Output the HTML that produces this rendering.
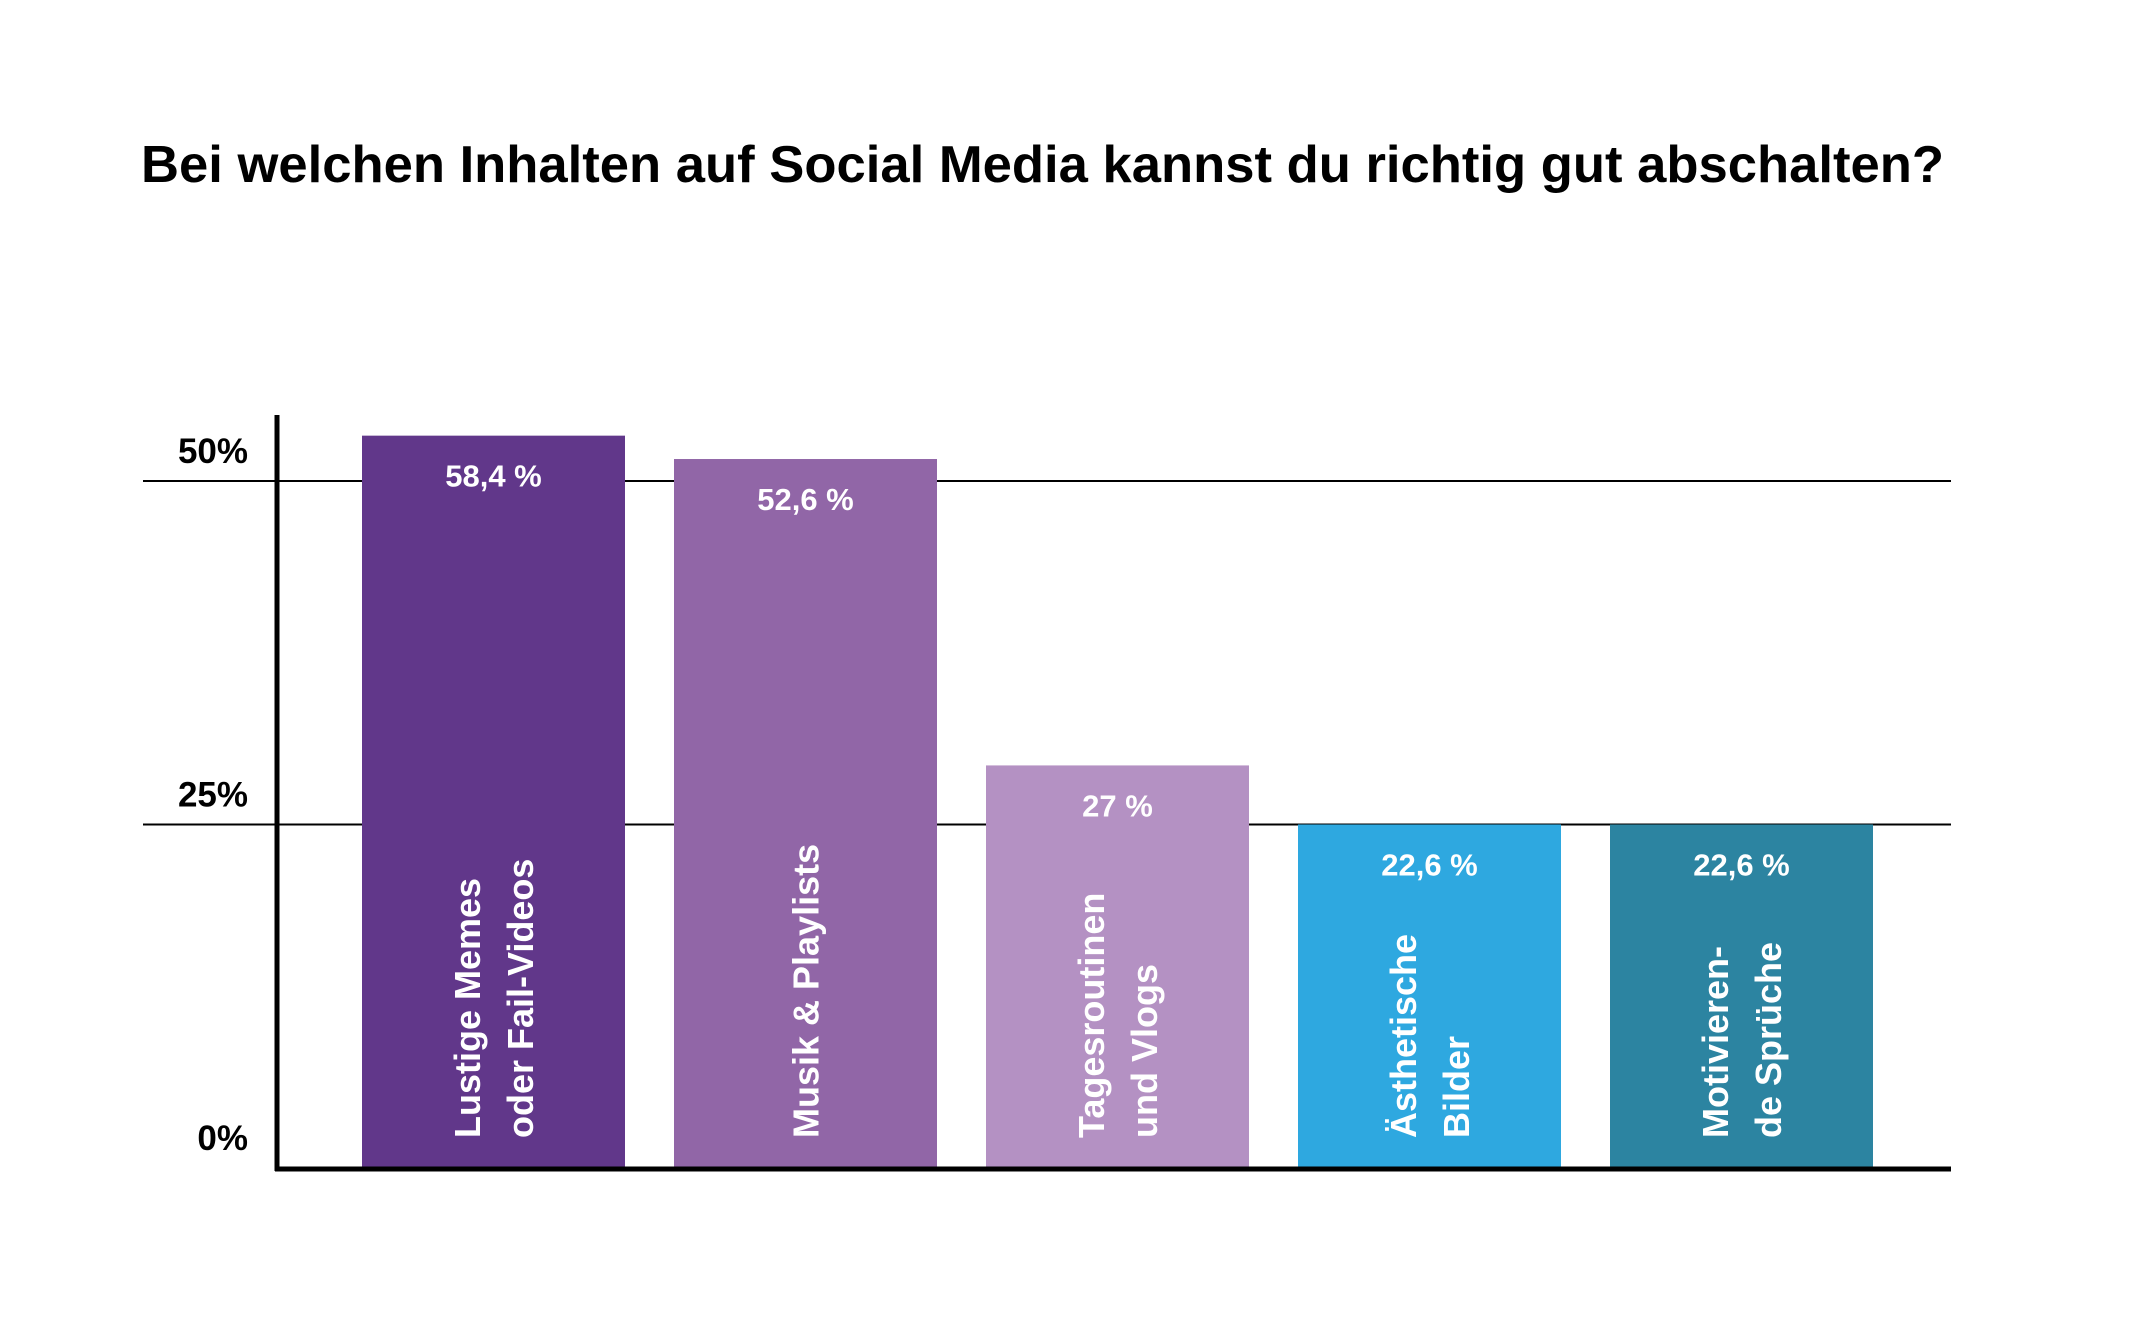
<!DOCTYPE html>
<html><head><meta charset="utf-8"><style>
html,body{margin:0;padding:0;background:#fff;}
svg{display:block;font-family:"Liberation Sans",sans-serif;}
</style></head><body>
<svg id="chart" width="2150" height="1321" viewBox="0 0 2150 1321" xmlns="http://www.w3.org/2000/svg">
<text x="141" y="182" font-size="52" font-weight="bold" textLength="1803" lengthAdjust="spacingAndGlyphs">Bei welchen Inhalten auf Social Media kannst du richtig gut abschalten?</text>
<g id="grid"></g>
<g id="bars"></g>
<line x1="277" y1="415" x2="277" y2="1171" stroke="#000" stroke-width="5"/>
<line x1="275" y1="1169" x2="1951" y2="1169" stroke="#000" stroke-width="5"/>
</svg>
<script>
const categories = [["Lustige Memes","oder Fail-Videos"],["Musik & Playlists"],["Tagesroutinen","und Vlogs"],["Ästhetische","Bilder"],["Motivieren-","de Sprüche"]];
const valueLabels = ["58,4 %","52,6 %","27 %","22,6 %","22,6 %"];
const barHeights = [53.3, 51.6, 29.3, 25, 25];
const colors = ["#61378a","#9166a7","#b491c3","#2ea8e0","#2c84a1"];
const ticks = [0, 25, 50];
const tickLabels = ["0%","25%","50%"];

const NS = "http://www.w3.org/2000/svg";
const y0 = 1168, y50 = 481;
function yScale(v){ return y0 - (y0 - y50) * v / 50; }
function xLeft(i){ return 362 + i * 312; }
const bw = 263;
const grid = document.getElementById('grid');
const barsG = document.getElementById('bars');
function mk(tag, attrs, parent){ const e = document.createElementNS(NS, tag); for (const k in attrs) e.setAttribute(k, attrs[k]); parent.appendChild(e); return e; }

ticks.forEach((t, i) => {
  const y = yScale(t);
  if (t > 0) {
    const l = mk('line', {x1:143, x2:1951, y1:y, y2:y, stroke:'#000', 'stroke-width':2}, grid);
    
    
  }
  const tx = mk('text', {x:248, y:y - 18, 'text-anchor':'end', 'font-size':35, 'font-weight':'bold'}, grid);
  tx.textContent = tickLabels[i];
  
  
});

barHeights.forEach((v, i) => {
  const x = xLeft(i), top = yScale(v);
  const r = mk('rect', {x:x, y:top, width:bw, height:y0 - top, fill:colors[i]}, barsG);
  
  
  const cx = x + bw / 2;
  const vl = mk('text', {x:cx, y:top + 51, 'text-anchor':'middle', 'font-size':31, 'font-weight':'bold', fill:'#fff'}, barsG);
  vl.textContent = valueLabels[i];
  
  
  const lines = categories[i];
  const n = lines.length;
  lines.forEach((ln, j) => {
    const lx = cx + (j - (n - 1) / 2) * 53 + 13;
    const ct = mk('text', {x:0, y:0, transform:'translate(' + lx + ',1138) rotate(-90)', 'font-size':36, 'font-weight':'bold', fill:'#fff'}, barsG);
    ct.textContent = ln;
    
    
  });
});
</script>
</body></html>
